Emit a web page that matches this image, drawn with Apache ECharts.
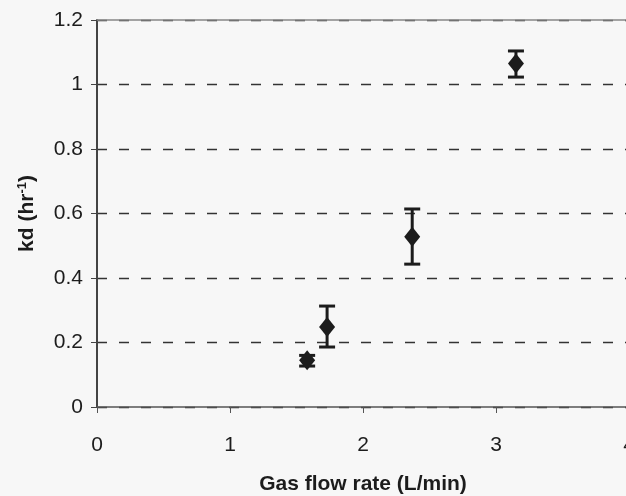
<!DOCTYPE html>
<html>
<head>
    <meta charset="UTF-8">
    <title>kd vs gas flow rate</title>
    <script src="https://cdn.jsdelivr.net/npm/echarts@6/dist/echarts.min.js"></script>
    <style>
        html, body { margin: 0; padding: 0; background: #f7f7f7; }
    </style>
</head>
<body>
    <div id="chart" style="width: 626px; height: 496px;"></div>

    <script>
        // values
        const flowRate = [1.58, 1.73, 2.37, 3.15];      // L/min
        const kd       = [0.145, 0.248, 0.528, 1.065];  // hr^-1
        const kdLow    = [0.127, 0.186, 0.443, 1.023];
        const kdHigh   = [0.160, 0.313, 0.614, 1.104];

        const xTicks = [0, 1, 2, 3, 4];
        const yTicks = [0, 0.2, 0.4, 0.6, 0.8, 1, 1.2];

        const font = 'Arial, "Liberation Sans", sans-serif';
        const ink = '#1c1c1c';

        const points = flowRate.map((x, i) => [x, kd[i]]);
        const bars = flowRate.map((x, i) => [x, kdLow[i], kdHigh[i]]);

        const chart = echarts.init(document.getElementById('chart'));

        chart.setOption({
            backgroundColor: '#f7f7f7',
            animation: false,
            grid: {
                left: 97,
                top: 20,
                width: 532,
                height: 387,
                containLabel: false,
                outerBoundsMode: 'none'
            },
            xAxis: [{
                type: 'value',
                min: xTicks[0],
                max: xTicks[xTicks.length - 1],
                interval: 1,
                name: 'Gas flow rate (L/min)',
                nameLocation: 'middle',
                nameGap: 67,
                nameTextStyle: { fontFamily: font, fontSize: 21, fontWeight: 'bold', color: ink },
                axisLine: { lineStyle: { color: '#555', width: 1.5 } },
                axisTick: { show: true, length: 6, lineStyle: { color: '#555' } },
                axisLabel: { margin: 28, fontFamily: font, fontSize: 21, color: ink },
                splitLine: { show: false }
            }, {
                // top border of the plot
                type: 'value',
                position: 'top',
                min: xTicks[0],
                max: xTicks[xTicks.length - 1],
                axisLine: { show: true, lineStyle: { color: '#888', width: 1.5 } },
                axisTick: { show: false },
                axisLabel: { show: false },
                splitLine: { show: false }
            }],
            yAxis: {
                type: 'value',
                min: yTicks[0],
                max: yTicks[yTicks.length - 1],
                interval: 0.2,
                name: '{a|kd (hr}{s|-1}{a|)}',
                nameLocation: 'middle',
                nameGap: 59,
                nameTextStyle: {
                    rich: {
                        a: { fontFamily: font, fontSize: 21, fontWeight: 'bold', color: ink },
                        s: { fontFamily: font, fontSize: 13, fontWeight: 'bold', color: ink, verticalAlign: 'top', padding: [0, 0, 9, 0] }
                    }
                },
                axisLine: { show: true, lineStyle: { color: '#444', width: 2 } },
                axisTick: { show: true, length: 6, lineStyle: { color: '#444' } },
                axisLabel: { margin: 14, fontFamily: font, fontSize: 21, color: ink },
                splitLine: {
                    show: true,
                    lineStyle: { color: '#333', width: 1.4, type: [10, 12] }
                }
            },
            series: [{
                type: 'custom',
                name: 'error',
                data: bars,
                z: 3,
                renderItem: function (params, api) {
                    const x = api.value(0);
                    const lo = api.coord([x, api.value(1)]);
                    const hi = api.coord([x, api.value(2)]);
                    const w = 8;
                    const st = { stroke: ink, lineWidth: 3 };
                    return {
                        type: 'group',
                        children: [
                            { type: 'line', shape: { x1: hi[0], y1: hi[1], x2: lo[0], y2: lo[1] }, style: st },
                            { type: 'line', shape: { x1: hi[0] - w, y1: hi[1], x2: hi[0] + w, y2: hi[1] }, style: st },
                            { type: 'line', shape: { x1: lo[0] - w, y1: lo[1], x2: lo[0] + w, y2: lo[1] }, style: st }
                        ]
                    };
                }
            }, {
                type: 'scatter',
                name: 'kd',
                data: points,
                z: 4,
                symbol: 'diamond',
                symbolSize: [16, 20],
                itemStyle: { color: ink, opacity: 1 }
            }]
        });
    </script>
</body>
</html>
